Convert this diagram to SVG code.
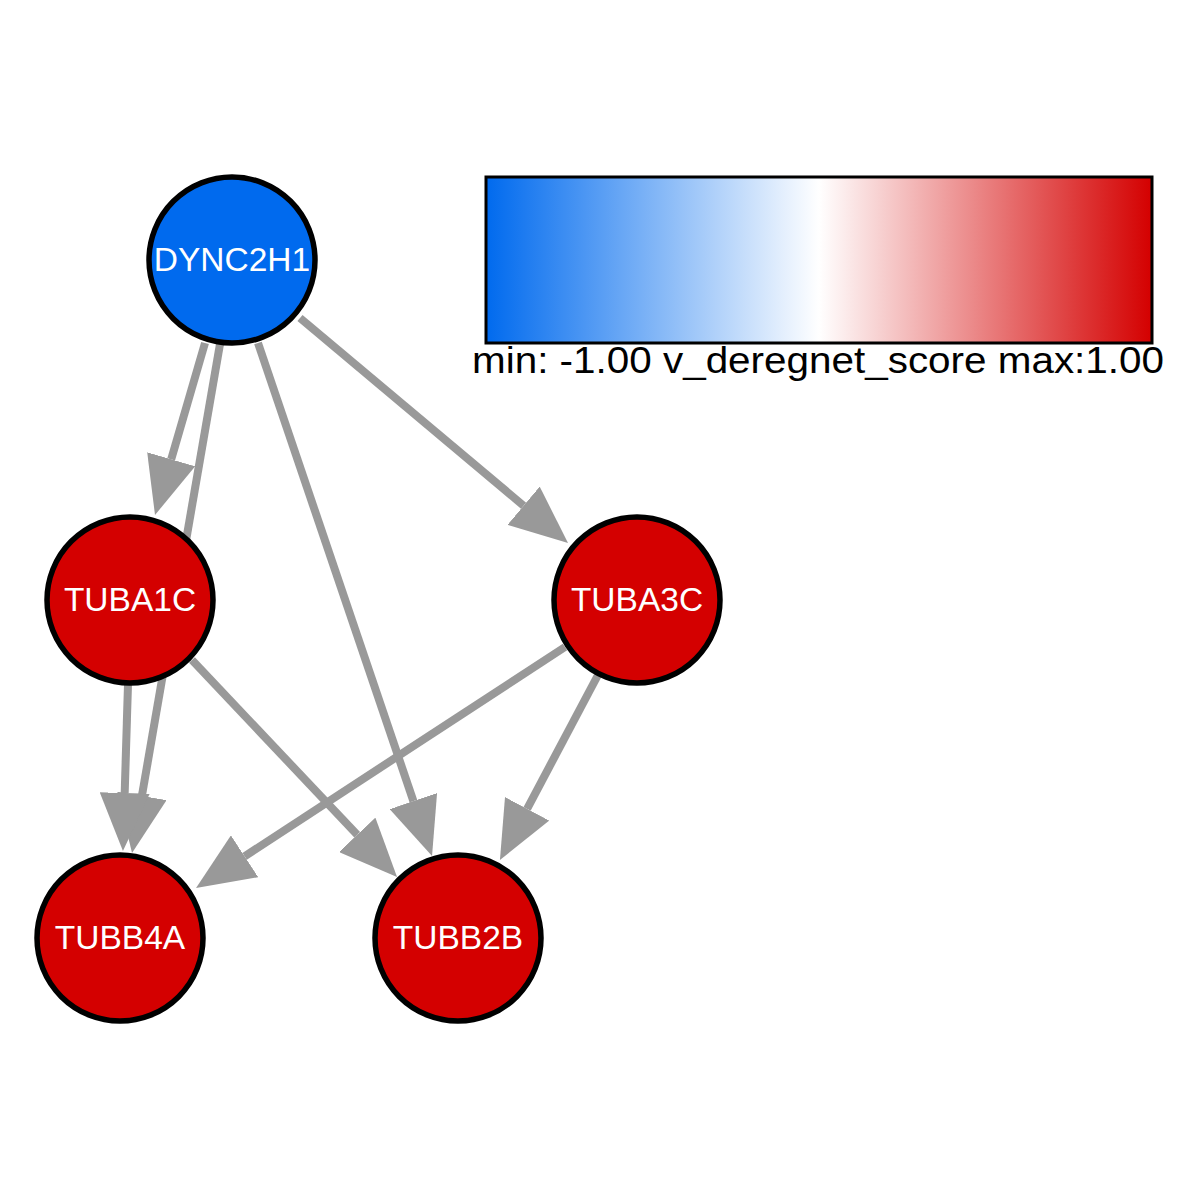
<svg xmlns="http://www.w3.org/2000/svg" width="1200" height="1200" viewBox="0 0 1200 1200">
<style>
.edge{stroke:#999999;stroke-width:8;fill:none;marker-end:url(#arrow)}
.node circle{stroke:#000;stroke-width:5.5}
.blue{fill:#006AEE}
.red{fill:#D40000}
.label{font-family:"Liberation Sans",Arial,sans-serif;font-size:33.5px;fill:#fff;text-anchor:middle}
.legend{font-family:"Liberation Sans",Arial,sans-serif;font-size:36px;fill:#000;text-anchor:middle}
</style>
<defs>
<marker id="arrow" viewBox="0 0 58 50" refX="0" refY="25" markerWidth="58" markerHeight="50" markerUnits="userSpaceOnUse" orient="auto">
<path d="M0,0 L58,25 L0,50 z" fill="#999999"/>
</marker>
<linearGradient id="grad" x1="0" y1="0" x2="1" y2="0">
<stop offset="0" stop-color="#006AEE"/>
<stop offset="0.5" stop-color="#ffffff"/>
<stop offset="1" stop-color="#D40000"/>
</linearGradient>
</defs>
<rect width="1200" height="1200" fill="#fff"/>
<g id="legend">
<rect x="486" y="177" width="666" height="166" fill="url(#grad)" stroke="#000" stroke-width="3"/>
<text class="legend" x="818" y="373" textLength="692" lengthAdjust="spacingAndGlyphs">min: -1.00 v_deregnet_score max:1.00</text>
</g>
<g id="edges">
<line class="edge" x1="205" y1="343" x2="171.2" y2="459.3"/>
<line class="edge" x1="220" y1="344" x2="141.9" y2="795.9"/>
<line class="edge" x1="258" y1="343" x2="413.4" y2="801.1"/>
<line class="edge" x1="300" y1="318" x2="523.6" y2="505.7"/>
<line class="edge" x1="192" y1="660" x2="357.2" y2="834.8"/>
<line class="edge" x1="565" y1="647" x2="244.6" y2="856.3"/>
<line class="edge" x1="598" y1="675" x2="527.1" y2="808.8"/>
<line class="edge" x1="128" y1="684" x2="124.7" y2="793"/>
</g>
<g id="DYNC2H1" class="node"><circle class="blue" cx="232" cy="260" r="83"/><text class="label" x="232" y="271">DYNC2H1</text></g>
<g id="TUBA1C" class="node"><circle class="red" cx="130" cy="600" r="83"/><text class="label" x="130" y="611">TUBA1C</text></g>
<g id="TUBA3C" class="node"><circle class="red" cx="637" cy="600" r="83"/><text class="label" x="637" y="611">TUBA3C</text></g>
<g id="TUBB4A" class="node"><circle class="red" cx="120" cy="938" r="83"/><text class="label" x="120" y="949">TUBB4A</text></g>
<g id="TUBB2B" class="node"><circle class="red" cx="458" cy="938" r="83"/><text class="label" x="458" y="949">TUBB2B</text></g>
</svg>
